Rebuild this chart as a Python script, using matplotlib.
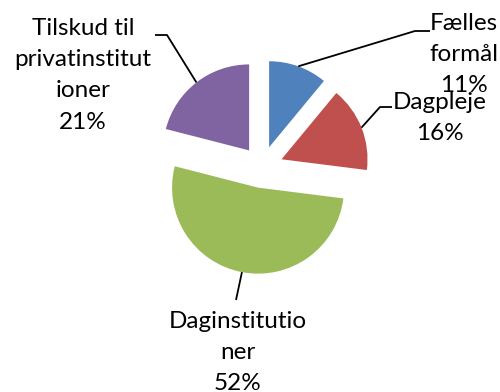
import numpy as np
import matplotlib.pyplot as plt

# budget shares (%) per area
categories = ["Fælles formål", "Dagpleje", "Daginstitutioner",
              "Tilskud til privatinstitutioner"]
shares = [11, 16, 52, 21]
# label text as wrapped in the chart
label_text = ["Fælles\nformål", "Dagpleje", "Daginstitutio\nner",
              "Tilskud til\nprivatinstitut\nioner"]
colors = ["#4F81BD", "#C0504D", "#9BBB59", "#8064A2"]

W, H = 500, 392
fig = plt.figure(figsize=(W / 100, H / 100), dpi=100)
ax = fig.add_axes([0, 0, 1, 1])

R = 86
wedges, _ = ax.pie(shares, colors=colors, startangle=90, counterclock=False,
                   center=(262, 225), radius=R, explode=[21] * len(shares),
                   frame=True)
ax.set_xlim(0, W)
ax.set_ylim(0, H)
ax.set_aspect("equal")
ax.axis("off")

# leader line bends / ends and label anchors (x centre, top of text)
leaders = [[(415, 361), (430, 361)],
           [(380, 285), (392, 285)],
           [(236, 92)],
           [(167, 357), (155, 357)]]
label_pos = [(464, 379), (440, 300), (238, 81), (83, 374)]

for w, pts, txt, pos, v in zip(wedges, leaders, label_text, label_pos, shares):
    mid = np.deg2rad((w.theta1 + w.theta2) / 2)
    cx, cy = w.center
    start = (cx + w.r * np.cos(mid), cy + w.r * np.sin(mid))
    xs, ys = zip(start, *pts)
    ax.plot(xs, ys, color="black", lw=1.3, solid_capstyle="butt")
    ax.text(pos[0], pos[1], f"{txt}\n{v}%", ha="center", va="top",
            fontsize=17.5, family="Lato", linespacing=1.6, color="black")

fig.savefig("out.png", dpi=100)
